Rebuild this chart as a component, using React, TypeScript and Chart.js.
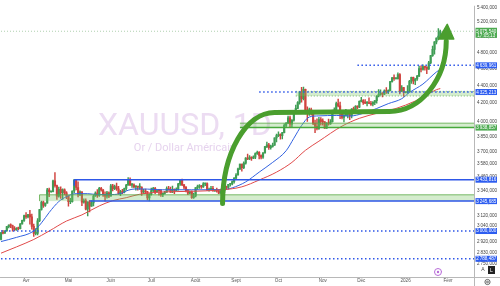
import React, { useEffect, useRef } from 'react';
import { Chart, registerables } from 'chart.js';

Chart.register(...registerables);

// ---------- categories ----------
const START_DATE = '2025-03-13';
const SLOT_COUNT = 246; // trading-day slots incl. empty space on the right
const MONTH_NAMES = ['Janv', 'Févr', 'Mars', 'Avr', 'Mai', 'Juin', 'Juil', 'Août', 'Sept', 'Oct', 'Nov', 'Déc'];

// ---------- daily candles (XAUUSD, 1D) ----------
const OPEN = [
  2934, 2988, 2984, 3001, 3035, 3048, 3044, 3022, 3011, 3020,
  3019, 3057, 3085, 3124, 3113, 3133, 3114, 3037, 2982, 2982,
  3082, 3175, 3237, 3210, 3229, 3343, 3327, 3327, 3424, 3381,
  3288, 3349, 3319, 3343, 3317, 3288, 3240, 3240, 3333, 3431,
  3364, 3306, 3325, 3236, 3250, 3177, 3240, 3203, 3230, 3290,
  3314, 3295, 3357, 3342, 3300, 3288, 3318, 3289, 3380, 3353,
  3372, 3353, 3310, 3325, 3322, 3355, 3385, 3433, 3385, 3388,
  3370, 3370, 3368, 3368, 3323, 3332, 3327, 3274, 3303, 3338,
  3357, 3326, 3337, 3336, 3302, 3313, 3324, 3355, 3343, 3324,
  3347, 3339, 3350, 3397, 3431, 3387, 3368, 3337, 3314, 3326,
  3275, 3290, 3363, 3373, 3380, 3369, 3397, 3398, 3341, 3348,
  3356, 3335, 3336, 3332, 3315, 3348, 3339, 3372, 3365, 3393,
  3397, 3417, 3448, 3477, 3533, 3578, 3545, 3587, 3636, 3626,
  3640, 3634, 3643, 3679, 3690, 3660, 3643, 3685, 3746, 3763,
  3736, 3749, 3760, 3833, 3858, 3865, 3857, 3887, 3961, 3985,
  4040, 3975, 4017, 4110, 4143, 4208, 4326, 4250, 4356, 4125,
  4095, 4126, 4111, 3982, 3952, 3930, 4024, 4002, 4000, 3932,
  3980, 3977, 4000, 4115, 4127, 4195, 4170, 4083, 4045, 4067,
  4077, 4077, 4065, 4135, 4130, 4165, 4156, 4220, 4230, 4206,
  4200, 4208, 4197, 4188, 4209, 4228, 4280, 4300, 4304, 4302,
  4340, 4331, 4340, 4445, 4490, 4480, 4480, 4530, 4332, 4375,
  4320, 4320, 4330, 4450, 4495, 4455, 4478, 4510, 4600, 4590,
  4625, 4615, 4595, 4670, 4760, 4840, 4935, 4985, 5010,
];
const HIGH = [
  2990, 3005, 3002, 3038, 3050, 3057, 3048, 3035, 3027, 3032,
  3060, 3087, 3128, 3149, 3135, 3167, 3136, 3055, 3020, 3100,
  3176, 3245, 3245, 3230, 3357, 3358, 3330, 3430, 3500, 3386,
  3368, 3371, 3352, 3353, 3328, 3290, 3269, 3335, 3437, 3435,
  3414, 3335, 3327, 3265, 3266, 3240, 3253, 3250, 3295, 3325,
  3345, 3366, 3365, 3349, 3325, 3330, 3325, 3392, 3392, 3385,
  3403, 3375, 3339, 3349, 3360, 3392, 3452, 3451, 3402, 3397,
  3380, 3375, 3398, 3370, 3347, 3350, 3330, 3310, 3358, 3365,
  3366, 3342, 3343, 3346, 3318, 3330, 3369, 3375, 3367, 3377,
  3353, 3361, 3402, 3433, 3439, 3393, 3373, 3345, 3334, 3334,
  3315, 3363, 3385, 3390, 3384, 3409, 3400, 3405, 3358, 3375,
  3375, 3345, 3358, 3345, 3350, 3351, 3379, 3376, 3393, 3399,
  3423, 3453, 3490, 3540, 3578, 3579, 3600, 3640, 3674, 3658,
  3648, 3657, 3685, 3703, 3698, 3667, 3687, 3749, 3791, 3779,
  3761, 3782, 3835, 3872, 3895, 3875, 3889, 3977, 3990, 4059,
  4060, 4022, 4116, 4179, 4218, 4330, 4380, 4381, 4360, 4161,
  4146, 4147, 4113, 4017, 4030, 4047, 4045, 4030, 4002, 3990,
  4027, 4023, 4125, 4148, 4212, 4245, 4211, 4108, 4083, 4133,
  4112, 4103, 4140, 4156, 4175, 4170, 4225, 4264, 4240, 4241,
  4217, 4259, 4220, 4218, 4230, 4285, 4354, 4350, 4320, 4350,
  4375, 4350, 4450, 4497, 4525, 4485, 4550, 4540, 4400, 4380,
  4325, 4400, 4460, 4500, 4500, 4480, 4520, 4630, 4635, 4645,
  4630, 4625, 4690, 4765, 4880, 4940, 4990, 5110, 5090,
];
const LOW = [
  2930, 2977, 2982, 2998, 3025, 3027, 2999, 3002, 3005, 3011,
  3016, 3055, 3076, 3101, 3105, 3054, 3015, 2957, 2970, 2970,
  3075, 3170, 3193, 3200, 3228, 3284, 3320, 3326, 3367, 3260,
  3280, 3268, 3260, 3300, 3266, 3202, 3223, 3236, 3319, 3342,
  3282, 3292, 3208, 3228, 3172, 3121, 3154, 3200, 3204, 3286,
  3277, 3287, 3331, 3285, 3245, 3271, 3275, 3289, 3333, 3345,
  3338, 3306, 3293, 3310, 3317, 3340, 3385, 3382, 3365, 3362,
  3340, 3340, 3347, 3295, 3311, 3311, 3255, 3248, 3297, 3327,
  3311, 3322, 3297, 3287, 3283, 3306, 3320, 3341, 3320, 3319,
  3309, 3332, 3340, 3383, 3381, 3351, 3325, 3301, 3308, 3268,
  3268, 3281, 3347, 3355, 3355, 3364, 3380, 3341, 3332, 3345,
  3331, 3330, 3323, 3311, 3312, 3325, 3321, 3352, 3351, 3377,
  3386, 3403, 3437, 3474, 3526, 3511, 3535, 3577, 3620, 3620,
  3612, 3630, 3630, 3670, 3627, 3628, 3632, 3683, 3735, 3718,
  3722, 3740, 3757, 3793, 3846, 3820, 3823, 3885, 3940, 3980,
  3945, 3947, 4007, 4095, 4140, 4190, 4211, 4235, 4082, 4004,
  4066, 4070, 3970, 3887, 3915, 3920, 3965, 3963, 3930, 3930,
  3965, 3972, 3996, 4100, 4105, 4160, 4032, 4030, 3997, 4061,
  4040, 4022, 4040, 4115, 4125, 4140, 4151, 4215, 4186, 4195,
  4170, 4196, 4175, 4170, 4185, 4200, 4270, 4290, 4270, 4296,
  4310, 4308, 4338, 4440, 4460, 4475, 4475, 4305, 4330, 4275,
  4315, 4310, 4320, 4425, 4420, 4410, 4460, 4505, 4560, 4580,
  4580, 4540, 4590, 4660, 4750, 4780, 4910, 4960, 4990,
];
const CLOSE = [
  2988, 2984, 3001, 3035, 3048, 3044, 3022, 3011, 3020, 3019,
  3057, 3085, 3124, 3113, 3133, 3114, 3037, 2982, 2982, 3082,
  3175, 3237, 3210, 3229, 3343, 3327, 3327, 3424, 3381, 3288,
  3349, 3319, 3343, 3317, 3288, 3240, 3240, 3333, 3431, 3364,
  3306, 3325, 3236, 3250, 3177, 3240, 3203, 3230, 3290, 3314,
  3295, 3357, 3342, 3300, 3288, 3318, 3289, 3380, 3353, 3372,
  3353, 3310, 3325, 3322, 3355, 3385, 3433, 3385, 3388, 3370,
  3370, 3368, 3368, 3323, 3332, 3327, 3274, 3303, 3338, 3357,
  3326, 3337, 3336, 3302, 3313, 3324, 3355, 3343, 3324, 3347,
  3339, 3350, 3397, 3431, 3387, 3368, 3337, 3314, 3326, 3275,
  3290, 3363, 3373, 3380, 3369, 3397, 3398, 3341, 3348, 3356,
  3335, 3336, 3332, 3315, 3348, 3339, 3372, 3365, 3393, 3397,
  3417, 3448, 3477, 3533, 3578, 3545, 3587, 3636, 3626, 3640,
  3634, 3643, 3679, 3690, 3660, 3643, 3685, 3746, 3763, 3736,
  3749, 3760, 3833, 3858, 3865, 3857, 3887, 3961, 3985, 4040,
  3975, 4017, 4110, 4143, 4208, 4326, 4250, 4356, 4125, 4095,
  4126, 4111, 3982, 3952, 3930, 4024, 4002, 4000, 3932, 3980,
  3977, 4000, 4115, 4127, 4195, 4170, 4083, 4045, 4067, 4077,
  4077, 4065, 4135, 4130, 4165, 4156, 4220, 4230, 4206, 4200,
  4208, 4197, 4188, 4209, 4228, 4280, 4300, 4304, 4302, 4340,
  4331, 4340, 4445, 4490, 4480, 4480, 4530, 4332, 4375, 4320,
  4320, 4330, 4450, 4495, 4455, 4478, 4510, 4600, 4590, 4625,
  4615, 4595, 4670, 4760, 4840, 4935, 4985, 5010, 5075.54,
];

// ---------- moving averages (read at sample bars) ----------
const MA_FAST_AT = [0, 8, 17, 21, 25, 30, 34, 39, 45, 50, 56, 62, 66, 70, 76, 84, 99, 115, 120, 127, 134, 141, 148, 152, 156, 160, 165, 174, 181, 188, 195, 201, 208, 212, 219, 226, 228];
const MA_FAST = [2918, 2950, 3000, 3065, 3150, 3242, 3284, 3310, 3310, 3302, 3302, 3310, 3340, 3352, 3350, 3344, 3344, 3344, 3361, 3414, 3503, 3594, 3706, 3830, 3960, 4050, 4062, 4067, 4060, 4089, 4142, 4195, 4250, 4320, 4417, 4560, 4590];
const MA_SLOW_AT = [0, 8, 17, 25, 34, 42, 51, 58, 65, 72, 84, 98, 115, 125, 134, 143, 151, 158, 165, 177, 186, 195, 205, 215, 226, 228];
const MA_SLOW = [2830, 2877, 2934, 3000, 3080, 3130, 3205, 3250, 3275, 3305, 3325, 3330, 3344, 3370, 3431, 3503, 3594, 3710, 3800, 3954, 4036, 4089, 4142, 4224, 4352, 4365];

// ---------- price axis ----------
const Y_MIN = 2658;
const Y_MAX = 5428;
const Y_TICKS = [5400, 5200, 5000, 4800, 4600, 4400, 4200, 4000, 3850, 3700, 3580, 3460, 3340, 3230, 3120, 3040, 2920, 2830, 2750];

// ---------- drawings ----------
const LEVEL_PRICES = [5075.54, 4639.961, 4325.213, 3938.857, 3433.816, 3245.685, 3000, 2788.487];
const LEVEL_FROM = [0, 185, 134, 124, 38, 46, 0, 0];
const LEVEL_KIND = ['last', 'blueDot', 'blueDot', 'green', 'blue', 'blue', 'blueDot', 'blueDot'];
const ZONE_FROM = [153, 124, 20];
const ZONE_LOW = [4280, 3938.857, 3245.685];
const ZONE_HIGH = [4333, 3985, 3300];
const BOX_EDGE = { at: 38, top: 3433.816, bottom: 3380 };
// arrow path: start, ctrl, ctrl, end of rise, end of plateau, ctrl, ctrl, base of head, tip  [bar index, price]
const ARROW_BARS = [115, 115, 127.1, 142, 201.6, 217.9, 231.1, 231.1, 231.6];
const ARROW_PRICES = [3226, 3682, 4099, 4099, 4110, 4110, 4476, 4973, 5169];

const TITLE = 'XAUUSD, 1D';
const SUBTITLE = 'Or / Dollar Américain';
const COUNTDOWN = '17:05:13';

function buildDates(): string[] {
  const out: string[] = [];
  const d = new Date(START_DATE + 'T12:00:00Z');
  while (out.length < SLOT_COUNT) {
    const wd = d.getUTCDay();
    if (wd !== 0 && wd !== 6) out.push(d.toISOString().slice(0, 10));
    d.setUTCDate(d.getUTCDate() + 1);
  }
  return out;
}
const DATES = buildDates();

function monthLabel(i: number): string {
  if (i <= 0 || i >= DATES.length) return '';
  if (DATES[i].slice(0, 7) === DATES[i - 1].slice(0, 7)) return '';
  const m = +DATES[i].slice(5, 7) - 1;
  return m === 0 ? DATES[i].slice(0, 4) : MONTH_NAMES[m];
}

function fmtPrice(v: number): string {
  const [int, dec] = v.toFixed(3).split('.');
  return int.replace(/\B(?=(\d{3})+(?!\d))/g, '\u202F') + ',' + dec;
}

function sparse(at: number[], vals: number[]): (number | null)[] {
  const a: (number | null)[] = new Array(SLOT_COUNT).fill(null);
  at.forEach((i, k) => { a[i] = vals[k]; });
  return a;
}

const UP = '#3f9d55';
const DOWN = '#d0433f';
const BLUE = '#2e57e8';
const GREEN = '#4a9e2e';
const AXIS_FONT = "'Liberation Sans', Arial, sans-serif";

const overlay = {
  id: 'overlay',
  beforeDatasetsDraw(chart: any) {
    const { ctx, chartArea: a } = chart;
    ctx.save();
    ctx.beginPath();
    ctx.rect(a.left, a.top, a.right - a.left, a.bottom - a.top);
    ctx.clip();
    const cx = a.left + (a.right - a.left) * 0.39;
    ctx.fillStyle = '#ecdcf2';
    ctx.textAlign = 'center';
    ctx.textBaseline = 'alphabetic';
    ctx.font = "32px Roboto, 'Liberation Sans', sans-serif";
    ctx.fillText(TITLE, cx, a.top + (a.bottom - a.top) * 0.477);
    ctx.fillStyle = '#e6d3ee';
    ctx.font = "11px Roboto, 'Liberation Sans', sans-serif";
    ctx.fillText(SUBTITLE, cx, a.top + (a.bottom - a.top) * 0.535);
    ctx.restore();
  },
  afterDatasetsDraw(chart: any) {
    const { ctx, chartArea: a, scales } = chart;
    const X = (i: number) => scales.x.getPixelForValue(i);
    const Y = (v: number) => scales.y.getPixelForValue(v);
    ctx.save();
    ctx.beginPath();
    ctx.rect(a.left, a.top, a.right - a.left, a.bottom - a.top);
    ctx.clip();

    // zones
    ZONE_FROM.forEach((from, k) => {
      const x0 = X(from);
      const y0 = Y(ZONE_HIGH[k]);
      const y1 = Y(ZONE_LOW[k]);
      ctx.fillStyle = 'rgba(120, 195, 100, 0.32)';
      ctx.fillRect(x0, y0, a.right - x0, y1 - y0);
      ctx.strokeStyle = 'rgba(90, 170, 70, 0.8)';
      ctx.lineWidth = 1;
      ctx.setLineDash(k === 0 ? [1, 2] : []);
      ctx.beginPath();
      ctx.moveTo(x0, y0); ctx.lineTo(a.right, y0);
      if (k === 0) { ctx.moveTo(x0, y1); ctx.lineTo(a.right, y1); }
      if (k === 2) { ctx.moveTo(x0, y0); ctx.lineTo(x0, y1); }
      ctx.stroke();
    });
    ctx.setLineDash([]);

    // levels
    LEVEL_PRICES.forEach((p, k) => {
      const kind = LEVEL_KIND[k];
      const y = Y(p);
      const x0 = X(LEVEL_FROM[k]);
      ctx.beginPath();
      if (kind === 'last') {
        ctx.strokeStyle = 'rgba(110, 170, 110, 0.55)';
        ctx.lineWidth = 1;
        ctx.setLineDash([1, 2]);
      } else if (kind === 'blueDot') {
        ctx.strokeStyle = BLUE;
        ctx.lineWidth = 1.5;
        ctx.setLineDash([1.5, 2.5]);
      } else if (kind === 'green') {
        ctx.strokeStyle = '#46a83a';
        ctx.lineWidth = 1.5;
        ctx.setLineDash([]);
      } else {
        ctx.strokeStyle = BLUE;
        ctx.lineWidth = 1.5;
        ctx.setLineDash([]);
      }
      ctx.moveTo(x0, y);
      ctx.lineTo(a.right, y);
      ctx.stroke();
    });
    ctx.setLineDash([]);
    ctx.strokeStyle = BLUE;
    ctx.lineWidth = 1.5;
    ctx.beginPath();
    ctx.moveTo(X(BOX_EDGE.at), Y(BOX_EDGE.top));
    ctx.lineTo(X(BOX_EDGE.at), Y(BOX_EDGE.bottom));
    ctx.stroke();

    // arrow
    const P = ARROW_BARS.map((b, k) => [X(b), Y(ARROW_PRICES[k])]);
    ctx.strokeStyle = GREEN;
    ctx.fillStyle = GREEN;
    ctx.lineWidth = 5;
    ctx.lineCap = 'round';
    ctx.beginPath();
    ctx.moveTo(P[0][0], P[0][1]);
    ctx.bezierCurveTo(P[1][0], P[1][1], P[2][0], P[2][1], P[3][0], P[3][1]);
    ctx.lineTo(P[4][0], P[4][1]);
    ctx.bezierCurveTo(P[5][0], P[5][1], P[6][0], P[6][1], P[7][0], P[7][1] + 2);
    ctx.stroke();
    ctx.beginPath();
    ctx.moveTo(P[7][0] - 7.5, P[7][1]);
    ctx.lineTo(P[7][0] + 7.5, P[7][1]);
    ctx.lineTo(P[8][0], P[8][1]);
    ctx.closePath();
    ctx.lineJoin = 'round';
    ctx.lineWidth = 1.5;
    ctx.fill();
    ctx.stroke();

    // small event icon near bottom
    ctx.strokeStyle = '#b86cd8';
    ctx.lineWidth = 1;
    ctx.beginPath();
    ctx.arc(a.right - 36, a.bottom - 5, 3.5, 0, Math.PI * 2);
    ctx.stroke();
    ctx.fillStyle = '#b86cd8';
    ctx.beginPath();
    ctx.arc(a.right - 36, a.bottom - 5, 1.2, 0, Math.PI * 2);
    ctx.fill();
    ctx.restore();
  },
  afterDraw(chart: any) {
    const { ctx, chartArea: a, scales, width, height } = chart;
    const Y = (v: number) => scales.y.getPixelForValue(v);
    ctx.save();
    // separators
    ctx.strokeStyle = '#b8b8b8';
    ctx.lineWidth = 1;
    ctx.beginPath();
    ctx.moveTo(a.right + 0.5, a.top);
    ctx.lineTo(a.right + 0.5, height);
    ctx.moveTo(a.left, a.bottom + 0.5);
    ctx.lineTo(width, a.bottom + 0.5);
    ctx.stroke();

    // price tags on axis
    ctx.textAlign = 'center';
    ctx.textBaseline = 'middle';
    LEVEL_PRICES.forEach((p, k) => {
      const y = Y(p);
      const kind = LEVEL_KIND[k];
      const green = kind === 'last' || kind === 'green';
      ctx.fillStyle = green ? '#4caa50' : '#2c5cf0';
      const x0 = a.right + 1.5;
      const w = width - x0 - 3;
      if (kind === 'last') {
        ctx.fillRect(x0, y - 3.5, w, 10);
        ctx.fillStyle = '#ffffff';
        ctx.font = `4.6px ${AXIS_FONT}`;
        ctx.fillText(fmtPrice(p), x0 + w / 2, y);
        ctx.fillText(COUNTDOWN, x0 + w / 2, y + 4.6);
      } else {
        ctx.fillRect(x0, y - 3, w, 6);
        ctx.fillStyle = '#ffffff';
        ctx.font = `4.6px ${AXIS_FONT}`;
        ctx.fillText(fmtPrice(p), x0 + w / 2, y + 0.2);
      }
    });

    // axis buttons
    const bx = a.right + 13;
    const by = a.bottom - 7;
    ctx.font = `5px ${AXIS_FONT}`;
    ctx.fillStyle = '#444';
    ctx.fillText('A', bx - 4, by);
    ctx.fillStyle = '#222';
    ctx.fillRect(bx + 1, by - 4, 7, 8);
    ctx.fillStyle = '#fff';
    ctx.fillText('L', bx + 4.5, by + 0.3);
    // settings icon
    ctx.strokeStyle = '#666';
    ctx.lineWidth = 1;
    ctx.beginPath();
    ctx.arc(a.right + 13.5, a.bottom + 5, 2.6, 0, Math.PI * 2);
    ctx.stroke();
    ctx.beginPath();
    ctx.arc(a.right + 13.5, a.bottom + 5, 0.9, 0, Math.PI * 2);
    ctx.stroke();
    ctx.restore();
  },
};

export default function App() {
  const ref = useRef<HTMLCanvasElement | null>(null);

  useEffect(() => {
    document.body.style.margin = '0';
    const canvas = ref.current;
    if (!canvas) return;
    const colors = CLOSE.map((c, i) => (c >= OPEN[i] ? UP : DOWN));
    const chart = new Chart(canvas, {
      type: 'bar',
      data: {
        labels: DATES,
        datasets: [
          {
            type: 'line',
            label: 'MA lente',
            data: sparse(MA_SLOW_AT, MA_SLOW),
            borderColor: '#e04a4a',
            borderWidth: 1,
            pointRadius: 0,
            spanGaps: true,
            cubicInterpolationMode: 'monotone',
            order: 0,
          } as any,
          {
            type: 'line',
            label: 'MA rapide',
            data: sparse(MA_FAST_AT, MA_FAST),
            borderColor: '#3262e0',
            borderWidth: 1,
            pointRadius: 0,
            spanGaps: true,
            cubicInterpolationMode: 'monotone',
            order: 0,
          } as any,
          {
            type: 'bar',
            label: 'corps',
            data: OPEN.map((o, i) => [o, CLOSE[i]]),
            backgroundColor: colors,
            barThickness: 1.5,
            minBarLength: 1,
            grouped: false,
            order: 1,
          } as any,
          {
            type: 'bar',
            label: 'mèches',
            data: LOW.map((l, i) => [l, HIGH[i]]),
            backgroundColor: colors,
            barThickness: 0.8,
            grouped: false,
            order: 2,
          } as any,
        ],
      },
      options: {
        animation: false,
        responsive: false,
        devicePixelRatio: 1,
        layout: { padding: 0 },
        plugins: { legend: { display: false }, tooltip: { enabled: false } },
        scales: {
          x: {
            type: 'category',
            offset: true,
            grid: { display: false, drawTicks: false },
            border: { display: false },
            ticks: {
              autoSkip: false,
              maxRotation: 0,
              minRotation: 0,
              padding: 1,
              color: '#555',
              font: { size: 4.6, family: AXIS_FONT },
              callback: (_v: any, i: number) => monthLabel(i),
            },
            afterFit: (s: any) => { s.height = 9; },
          },
          y: {
            type: 'logarithmic',
            position: 'right',
            min: Y_MIN,
            max: Y_MAX,
            grid: { display: false, drawTicks: false },
            border: { display: false },
            afterBuildTicks: (s: any) => { s.ticks = Y_TICKS.map((v) => ({ value: v })); },
            ticks: {
              autoSkip: false,
              padding: 3,
              color: '#444',
              font: { size: 4.6, family: AXIS_FONT },
              callback: (v: any) => fmtPrice(Number(v)),
            },
            afterFit: (s: any) => { s.width = 26; },
          },
        },
      } as any,
      plugins: [overlay],
    });
    return () => chart.destroy();
  }, []);

  return (
    <div style={{ width: 500, height: 286, background: '#ffffff' }}>
      <canvas ref={ref} width={500} height={286} style={{ display: 'block', width: 500, height: 286 }} />
    </div>
  );
}
